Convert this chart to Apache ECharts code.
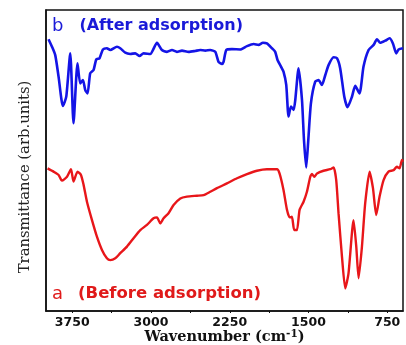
<!DOCTYPE html>
<html>
<head>
<meta charset="utf-8">
<script src="https://cdn.jsdelivr.net/npm/echarts@6/dist/echarts.min.js"></script>
<style>
  html, body { margin: 0; padding: 0; background: #fff; }
  #chart { width: 406px; height: 345px; }
</style>
</head>
<body>
<div id="chart"></div>
<script>
// FTIR spectra: wavenumber (cm-1) and transmittance (arb. units)
const wavenumberAfter = [3976, 3943, 3912, 3880, 3839, 3807, 3769, 3738, 3700, 3674, 3648, 3626, 3604, 3579, 3547, 3521, 3490, 3458, 3420, 3388, 3324, 3293, 3245, 3198, 3150, 3109, 3071, 3007, 2943, 2896, 2848, 2800, 2753, 2705, 2642, 2579, 2531, 2483, 2436, 2388, 2357, 2324, 2309, 2283, 2229, 2150, 2086, 2023, 1976, 1934, 1896, 1848, 1817, 1795, 1762, 1738, 1712, 1690, 1667, 1642, 1626, 1595, 1562, 1543, 1522, 1502, 1477, 1436, 1404, 1372, 1340, 1309, 1261, 1229, 1198, 1159, 1128, 1086, 1055, 1014, 976, 928, 880, 848, 817, 769, 728, 696, 664, 642, 600];
const transmittanceAfter = [90.3, 87.8, 85.0, 77.8, 68.1, 71.2, 85.6, 62.4, 82.3, 75.6, 76.7, 73.4, 72.3, 79.0, 80.1, 83.6, 84.0, 86.9, 87.3, 86.7, 87.8, 87.3, 85.8, 85.4, 85.6, 84.7, 85.6, 85.4, 89.1, 86.7, 86.1, 86.7, 86.1, 86.5, 86.1, 86.4, 86.7, 86.5, 86.7, 86.1, 82.8, 82.1, 82.8, 86.7, 87.0, 86.9, 88.0, 88.7, 88.4, 89.1, 88.9, 87.3, 86.1, 83.4, 81.2, 79.5, 75.1, 64.6, 67.9, 66.8, 70.1, 80.6, 70.1, 56.8, 47.7, 56.8, 69.0, 76.2, 76.7, 75.1, 78.4, 81.7, 84.3, 84.0, 80.6, 71.2, 67.7, 71.2, 74.8, 72.3, 81.2, 86.7, 88.4, 90.3, 89.1, 89.8, 90.6, 88.9, 85.6, 86.9, 87.3];

const wavenumberBefore = [3985, 3928, 3880, 3848, 3800, 3762, 3738, 3700, 3667, 3642, 3610, 3562, 3515, 3467, 3420, 3388, 3340, 3293, 3229, 3166, 3102, 3039, 2976, 2943, 2912, 2880, 2833, 2785, 2721, 2658, 2562, 2499, 2436, 2372, 2277, 2181, 2086, 1991, 1896, 1800, 1776, 1738, 1705, 1680, 1658, 1636, 1610, 1585, 1547, 1515, 1483, 1467, 1445, 1419, 1357, 1293, 1261, 1236, 1214, 1181, 1150, 1119, 1071, 1045, 1023, 991, 960, 918, 886, 855, 823, 785, 738, 690, 658, 633, 610, 600];
const transmittanceBefore = [47.4, 46.3, 45.2, 43.3, 44.6, 47.1, 43.0, 46.3, 45.2, 41.9, 36.3, 30.2, 24.7, 20.3, 17.5, 16.9, 17.5, 19.2, 21.4, 24.2, 26.9, 28.6, 30.8, 31.1, 29.1, 30.8, 32.5, 35.2, 37.4, 38.0, 38.3, 38.5, 39.6, 40.8, 42.4, 44.1, 45.5, 46.6, 47.1, 47.1, 45.7, 40.2, 33.6, 31.1, 31.3, 26.9, 26.9, 33.6, 36.3, 39.6, 44.6, 45.5, 44.6, 45.7, 46.6, 47.1, 47.7, 43.5, 32.5, 18.0, 7.5, 12.5, 30.2, 21.4, 10.9, 21.4, 35.8, 46.3, 40.8, 31.9, 38.0, 43.5, 46.3, 46.8, 47.9, 47.4, 50.2, 49.6];

const tickLabels = [3750, 3000, 2250, 1500, 750];
const minorTicks = [3750, 3375, 3000, 2625, 2250, 1875, 1500, 1125, 750];

const pair = (xs, ys) => xs.map((x, i) => [x, ys[i]]);

const chart = echarts.init(document.getElementById('chart'), null, { renderer: 'canvas' });

chart.setOption({
  animation: false,
  backgroundColor: '#fff',
  grid: {
    left: 46, right: 3, top: 10, bottom: 34,
    outerBoundsMode: 'none',
    containLabel: false,
    show: true, borderColor: '#111', borderWidth: 1.5
  },
  xAxis: {
    type: 'value',
    inverse: true,
    min: 600,
    max: 4000,
    name: '{b|Wavenumber (cm}{s|-1}{b|)}',
    nameLocation: 'middle',
    nameGap: 18,
    nameMoveOverlap: false,
    nameTextStyle: {
      rich: {
        b: { fontFamily: 'DejaVu Serif', fontWeight: 'bold', fontSize: 14.5, color: '#111', verticalAlign: 'bottom', lineHeight: 16 },
        s: { fontFamily: 'DejaVu Serif', fontWeight: 'bold', fontSize: 10.5, color: '#111', verticalAlign: 'top', lineHeight: 16, padding: [0, 0, 6, 0] }
      }
    },
    axisLine: { show: true, lineStyle: { color: '#111', width: 1.5 } },
    axisTick: { show: true, customValues: minorTicks, length: 2, lineStyle: { color: '#111', width: 1 } },
    axisLabel: {
      customValues: tickLabels,
      formatter: v => String(v),
      margin: 5,
      fontFamily: 'DejaVu Sans', fontWeight: 'bold', fontSize: 12.5, color: '#111'
    },
    splitLine: { show: false }
  },
  yAxis: {
    type: 'value',
    min: 0,
    max: 100,
    axisLine: { show: true, lineStyle: { color: '#111', width: 1.5 } },
    axisTick: { show: false },
    axisLabel: { show: false },
    splitLine: { show: false }
  },
  series: [
    {
      name: 'After adsorption',
      type: 'line',
      data: pair(wavenumberAfter, transmittanceAfter),
      showSymbol: false,
      smooth: 0.2,
      lineStyle: { color: '#1414e6', width: 2.6 }
    },
    {
      name: 'Before adsorption',
      type: 'line',
      data: pair(wavenumberBefore, transmittanceBefore),
      showSymbol: false,
      smooth: 0.2,
      lineStyle: { color: '#e8161a', width: 2.4 }
    }
  ],
  graphic: [
    {
      // vertical axis title
      type: 'text', x: 25, y: 177, rotation: Math.PI / 2,
      style: {
        text: 'Transmittance (arb.units)',
        fontFamily: 'DejaVu Serif', fontSize: 14.8, fill: '#222',
        align: 'center', verticalAlign: 'middle'
      }
    },
    {
      type: 'text', left: 52, top: 17,
      style: {
        text: '{l|b}{t|(After adsorption)}',
        rich: {
          l: { fontFamily: 'DejaVu Sans', fontSize: 18, fill: '#1a1ad8' },
          t: { fontFamily: 'DejaVu Sans', fontWeight: 'bold', fontSize: 16, fill: '#1a1ad8', padding: [0, 0, 0, 16] }
        }
      }
    },
    {
      type: 'text', left: 52, top: 285,
      style: {
        text: '{l|a}{t|(Before adsorption)}',
        rich: {
          l: { fontFamily: 'DejaVu Sans', fontSize: 18, fill: '#e01a1a' },
          t: { fontFamily: 'DejaVu Sans', fontWeight: 'bold', fontSize: 16.5, fill: '#e01a1a', padding: [0, 0, 0, 15] }
        }
      }
    }
  ]
});
</script>
</body>
</html>
